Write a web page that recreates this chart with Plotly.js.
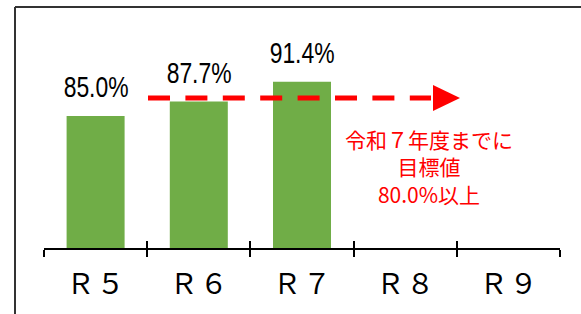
<!DOCTYPE html>
<html>
<head>
<meta charset="utf-8">
<script src="https://cdn.plot.ly/plotly-3.0.1.min.js"></script>
<style>
html,body{margin:0;padding:0;background:#fff;}
#chart{width:581px;height:314px;}
.xtick text{letter-spacing:2px;}
</style>
</head>
<body>
<div id="chart"></div>
<script>
var categories = ['Ｒ５', 'Ｒ６', 'Ｒ７', 'Ｒ８', 'Ｒ９'];
var values = [85.0, 87.7, 91.4, null, null];
var valueLabels = ['85.0%', '87.7%', '91.4%', '', ''];
var targetText = ['令和７年度までに', '目標値', '80.0%以上'];

var W = 581, H = 314;
var L = 44, R = 21, T = 34, B = 66;
var pw = W - L - R, ph = H - T - B;
function px(x) { return (x - L) / pw; }
function py(y) { return (H - B - y) / ph; }

var labelFont = {family: 'Liberation Sans, Arial, sans-serif', size: 29, color: '#000'};

var annotations = [];
for (var i = 0; i < categories.length; i++) {
  if (values[i] === null) continue;
  annotations.push({
    x: categories[i], y: values[i], xref: 'x', yref: 'y',
    text: valueLabels[i], showarrow: false, yanchor: 'middle', yshift: 29,
    font: labelFont
  });
}
var nValueLabels = annotations.length;
annotations.push({
  xref: 'paper', yref: 'paper', x: px(429), y: py(166.5),
  text: targetText.join('<br>'), showarrow: false, align: 'center',
  xanchor: 'center', yanchor: 'middle',
  font: {family: 'Noto Sans CJK JP, sans-serif', size: 21, color: '#FF0000'}
});

var shapes = [
  {type: 'line', xref: 'paper', yref: 'paper', x0: px(15), x1: px(15), y0: py(7), y1: py(330), line: {color: '#333', width: 2}},
  {type: 'line', xref: 'paper', yref: 'paper', x0: px(15), x1: px(600), y0: py(7), y1: py(7), line: {color: '#333', width: 2}},
  {type: 'line', xref: 'paper', yref: 'paper', x0: px(148), x1: px(431), y0: py(98), y1: py(98), line: {color: '#FF0000', width: 5, dash: '22px,15.4px'}},
  {type: 'path', xref: 'paper', yref: 'paper',
   path: 'M ' + px(433) + ',' + py(85) + ' L ' + px(460) + ',' + py(98) + ' L ' + px(433) + ',' + py(111) + ' Z',
   fillcolor: '#FF0000', line: {width: 0}}
];

var data = [
  {type: 'bar', x: categories, y: values, marker: {color: '#70AD47'}, hoverinfo: 'none'},
  {type: 'scatter', x: categories, y: [null, null, null, null, null], xaxis: 'x2', yaxis: 'y', mode: 'lines', hoverinfo: 'none', showlegend: false}
];

var axisCommon = {
  type: 'category', showline: true, linecolor: '#000', linewidth: 2,
  tickson: 'boundaries', tickcolor: '#000', tickwidth: 2, ticklen: 7,
  showgrid: false, zeroline: false, fixedrange: true
};

var layout = {
  width: W, height: H,
  margin: {l: L, r: R, t: T, b: B, pad: 0},
  paper_bgcolor: '#fff', plot_bgcolor: '#fff',
  showlegend: false,
  bargap: 0.438,
  xaxis: Object.assign({}, axisCommon, {
    ticks: 'outside', range: [-0.5, 4.5],
    ticklabelstandoff: 10,
    tickfont: {family: 'Noto Sans CJK JP, sans-serif', size: 28, color: '#000'}
  }),
  xaxis2: Object.assign({}, axisCommon, {
    ticks: 'inside', overlaying: 'x', anchor: 'y', side: 'bottom', matches: 'x',
    range: [-0.5, 4.5], showticklabels: false
  }),
  yaxis: {range: [60.4, 100.3], visible: false, showgrid: false, zeroline: false, fixedrange: true},
  annotations: annotations,
  shapes: shapes
};

Plotly.newPlot('chart', data, layout, {staticPlot: true, displayModeBar: false}).then(function () {
  // condensed look for the value labels
  document.querySelectorAll('g.annotation').forEach(function (g) {
    var idx = parseInt(g.getAttribute('data-index'), 10);
    if (idx < nValueLabels) {
      var t = g.querySelector('text');
      if (t) {
        t.style.transformBox = 'fill-box';
        t.style.transformOrigin = 'center';
        t.style.transform = 'scaleX(0.79)';
      }
    }
  });
  // compensate the trailing letter-spacing so tick labels stay centred
  document.querySelectorAll('.xtick text').forEach(function (t) {
    t.setAttribute('dx', '1');
  });
});
</script>
</body>
</html>
